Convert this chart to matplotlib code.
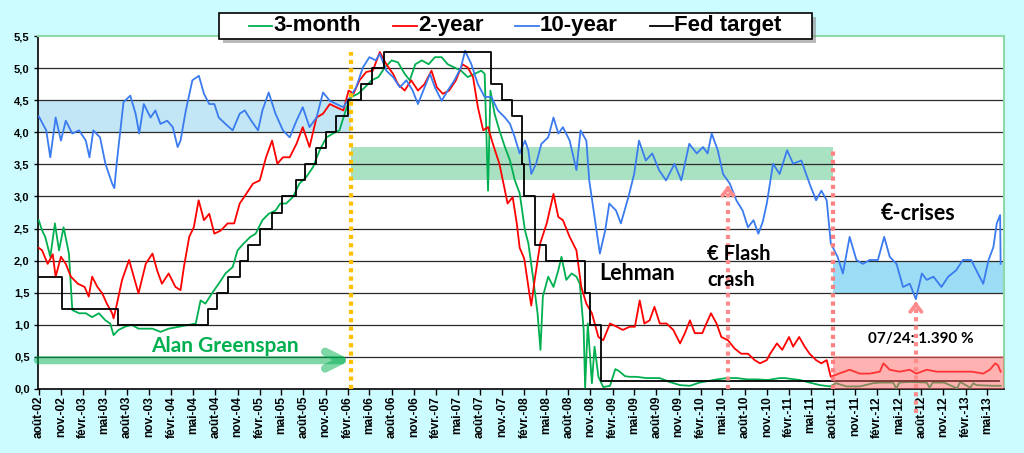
import matplotlib
matplotlib.use("Agg")
import matplotlib.pyplot as plt
import pandas as pd
from matplotlib.lines import Line2D
from matplotlib.patches import Rectangle

# ---------------- data ----------------
t10_dates = ["2002-08-01","2002-09-01","2002-09-18","2002-10-10","2002-11-01","2002-11-21","2002-12-18",
 "2003-01-15","2003-02-12","2003-02-27","2003-03-15","2003-04-12","2003-05-04","2003-06-01","2003-06-10",
 "2003-06-21","2003-07-18","2003-08-15","2003-09-06","2003-09-21","2003-10-10","2003-11-07","2003-11-27",
 "2003-12-18","2004-01-15","2004-02-07","2004-02-27","2004-03-10","2004-04-01","2004-04-28","2004-05-25",
 "2004-06-15","2004-07-07","2004-07-28","2004-08-15","2004-09-12","2004-10-12","2004-11-10","2004-12-01",
 "2004-12-28","2005-01-25","2005-02-12","2005-03-10","2005-04-07","2005-05-08","2005-06-05","2005-07-03",
 "2005-07-29","2005-08-26","2005-09-24","2005-10-21","2005-11-18","2005-12-15","2006-01-13","2006-02-10",
 "2006-03-07","2006-04-04","2006-05-01","2006-05-27","2006-06-13","2006-07-10","2006-08-07","2006-09-04",
 "2006-10-01","2006-10-27","2006-11-18","2006-12-10","2007-01-07","2007-01-27","2007-02-24","2007-03-21",
 "2007-04-18","2007-05-15","2007-06-01","2007-06-27","2007-07-24","2007-08-21","2007-09-18","2007-10-15",
 "2007-11-13","2007-12-04","2007-12-24","2008-01-13","2008-02-04","2008-02-18","2008-03-01","2008-03-21",
 "2008-04-12","2008-05-10","2008-06-01","2008-06-21","2008-07-10","2008-08-07","2008-09-04","2008-09-21",
 "2008-10-15","2008-10-27","2008-11-18","2008-12-10","2009-01-01","2009-01-18","2009-02-15","2009-03-07",
 "2009-04-07","2009-05-01","2009-05-21","2009-06-18","2009-07-15","2009-08-12","2009-09-10","2009-10-15",
 "2009-11-12","2009-12-15","2010-01-15","2010-02-10","2010-03-01","2010-03-18","2010-04-12","2010-05-04",
 "2010-06-01","2010-06-28","2010-07-24","2010-08-15","2010-09-07","2010-09-27","2010-10-15","2010-11-01",
 "2010-11-27","2010-12-24","2011-01-24","2011-02-18","2011-03-24","2011-04-27","2011-05-24","2011-06-15",
 "2011-07-07","2011-07-24","2011-08-21","2011-09-12","2011-10-10","2011-11-07","2011-12-04","2012-01-01",
 "2012-02-04","2012-03-01","2012-03-24","2012-04-21","2012-05-18","2012-06-15","2012-07-10","2012-08-04",
 "2012-08-24","2012-09-21","2012-10-24","2012-11-21","2012-12-24","2013-01-21","2013-02-24","2013-03-24",
 "2013-04-15","2013-05-07","2013-05-27","2013-06-10","2013-06-24","2013-06-26"]
t10_values = [4.25,4.03,3.61,4.23,3.87,4.18,3.98,
 4.03,3.87,3.61,4.03,3.92,3.51,3.20,3.13,
 3.56,4.47,4.57,4.29,3.98,4.44,4.23,4.34,
 4.13,4.18,4.08,3.77,3.87,4.34,4.81,4.88,
 4.60,4.44,4.44,4.23,4.13,4.03,4.29,4.34,
 4.18,4.03,4.34,4.62,4.29,4.03,3.92,4.18,
 4.39,4.08,4.23,4.62,4.49,4.44,4.39,4.55,
 4.70,5.01,5.17,5.12,5.22,4.96,4.86,4.70,
 4.81,4.65,4.44,4.65,4.91,4.70,4.49,4.65,
 4.81,5.01,5.27,5.06,4.75,4.55,4.55,4.34,
 4.23,4.13,3.92,3.67,3.87,3.72,3.35,3.51,
 3.82,3.92,4.23,3.98,4.08,3.87,3.41,4.03,
 3.87,3.25,2.68,2.11,2.47,2.89,2.78,2.58,
 2.99,3.35,3.87,3.56,3.67,3.41,3.25,3.51,
 3.25,3.82,3.67,3.77,3.67,3.98,3.72,3.35,
 3.20,2.94,2.78,2.52,2.63,2.42,2.60,2.89,
 3.51,3.35,3.72,3.51,3.56,3.20,2.94,3.09,
 2.94,2.27,2.06,1.80,2.37,2.01,1.95,2.01,
 2.01,2.37,2.06,1.95,1.59,1.64,1.40,1.80,
 1.70,1.75,1.59,1.75,1.85,2.01,2.01,1.80,
 1.64,2.01,2.21,2.58,2.71,1.95]

t2_dates = ["2002-08-01","2002-08-15","2002-09-07","2002-09-28","2002-10-10","2002-11-01","2002-11-21",
 "2002-12-12","2003-01-10","2003-02-07","2003-02-24","2003-03-10","2003-04-01","2003-04-21","2003-05-10",
 "2003-06-01","2003-06-07","2003-06-21","2003-07-12","2003-08-10","2003-09-07","2003-09-18","2003-10-18",
 "2003-11-15","2003-12-04","2003-12-24","2004-01-21","2004-02-18","2004-03-10","2004-03-24","2004-04-15",
 "2004-05-04","2004-05-24","2004-06-15","2004-07-07","2004-07-28","2004-08-24","2004-09-21","2004-10-18",
 "2004-11-10","2004-12-07","2005-01-04","2005-02-01","2005-02-27","2005-03-24","2005-04-15","2005-05-08",
 "2005-06-05","2005-07-03","2005-07-29","2005-08-26","2005-09-24","2005-10-21","2005-11-18","2005-12-15",
 "2006-01-13","2006-02-04","2006-02-24","2006-03-21","2006-04-18","2006-05-15","2006-06-13","2006-07-10",
 "2006-08-07","2006-08-27","2006-09-24","2006-10-21","2006-11-18","2006-12-15","2007-01-13","2007-02-04",
 "2007-03-01","2007-03-27","2007-04-24","2007-05-21","2007-06-12","2007-07-04","2007-07-24","2007-08-15",
 "2007-09-04","2007-09-24","2007-10-21","2007-11-13","2007-11-24","2007-12-15","2008-01-01","2008-01-13",
 "2008-02-01","2008-02-24","2008-03-01","2008-03-15","2008-04-07","2008-05-04","2008-06-01","2008-06-21",
 "2008-07-10","2008-08-07","2008-09-04","2008-09-24","2008-10-15","2008-11-07","2008-12-04","2008-12-24",
 "2009-01-21","2009-02-18","2009-03-15","2009-04-12","2009-05-04","2009-05-24","2009-06-12","2009-07-04",
 "2009-07-24","2009-08-15","2009-09-12","2009-10-10","2009-11-07","2009-11-27","2009-12-18","2010-01-07",
 "2010-02-07","2010-02-24","2010-03-15","2010-04-07","2010-04-27","2010-05-24","2010-06-21","2010-07-18",
 "2010-08-15","2010-09-12","2010-10-04","2010-11-01","2010-11-15","2010-12-13","2011-01-04","2011-02-01",
 "2011-02-18","2011-03-15","2011-04-07","2011-04-27","2011-05-24","2011-06-15","2011-07-07","2011-07-24",
 "2011-08-27","2011-10-10","2011-11-21","2012-01-01","2012-02-12","2012-02-27","2012-03-24","2012-05-04",
 "2012-06-15","2012-07-12","2012-08-24","2012-10-04","2012-11-15","2013-01-10","2013-02-27","2013-04-15",
 "2013-05-12","2013-06-04","2013-06-15","2013-06-26"]
t2_values = [2.20,2.16,1.95,2.10,1.75,2.06,1.95,
 1.75,1.64,1.59,1.44,1.75,1.59,1.49,1.33,
 1.18,1.10,1.33,1.70,2.01,1.64,1.49,1.95,
 2.11,1.85,1.64,1.80,1.59,1.54,1.90,2.37,
 2.52,2.94,2.63,2.73,2.42,2.47,2.58,2.58,
 2.89,3.04,3.20,3.25,3.61,3.87,3.51,3.61,
 3.61,3.82,4.08,3.77,4.23,4.29,4.44,4.39,
 4.34,4.65,4.60,4.81,4.94,4.96,5.25,5.06,
 4.91,4.75,4.65,4.81,4.65,4.75,4.96,4.70,
 4.60,4.65,4.81,5.06,5.01,4.86,4.39,4.03,
 4.08,3.82,3.51,3.09,2.89,2.99,2.58,2.20,
 2.03,1.44,1.30,1.70,2.27,2.58,3.04,2.68,
 2.63,2.37,2.16,1.59,1.33,1.18,0.81,0.76,
 1.02,0.97,0.92,0.97,0.97,1.38,1.02,1.07,
 1.28,1.02,1.02,0.92,0.71,0.87,1.07,0.87,
 0.87,1.02,1.18,1.02,0.81,0.76,0.63,0.55,
 0.55,0.45,0.40,0.45,0.55,0.71,0.61,0.81,
 0.66,0.81,0.66,0.55,0.45,0.40,0.45,0.19,
 0.24,0.30,0.24,0.24,0.27,0.40,0.30,0.27,
 0.30,0.24,0.30,0.27,0.27,0.27,0.27,0.24,
 0.30,0.40,0.37,0.27]

t3m_dates = ["2002-08-01","2002-08-15","2002-08-28","2002-09-18","2002-10-07","2002-10-24","2002-11-12",
 "2002-12-04","2002-12-18","2003-01-15","2003-02-12","2003-03-10","2003-04-07","2003-05-04","2003-05-24",
 "2003-06-07","2003-06-27","2003-07-24","2003-08-21","2003-09-18","2003-10-18","2003-11-15","2003-12-18",
 "2004-01-21","2004-03-04","2004-04-15","2004-05-12","2004-06-01","2004-06-21","2004-07-18","2004-08-15",
 "2004-09-12","2004-10-12","2004-11-01","2004-11-27","2004-12-24","2005-01-15","2005-02-12","2005-03-10",
 "2005-04-07","2005-04-27","2005-05-21","2005-06-18","2005-07-15","2005-08-12","2005-09-10","2005-10-07",
 "2005-11-04","2005-12-01","2005-12-28","2006-01-27","2006-02-15","2006-03-15","2006-04-12","2006-05-10",
 "2006-06-07","2006-07-04","2006-08-01","2006-08-27","2006-09-24","2006-10-15","2006-11-07","2006-12-04",
 "2007-01-01","2007-01-27","2007-02-24","2007-03-21","2007-04-18","2007-05-15","2007-06-12","2007-07-10",
 "2007-08-07","2007-08-21","2007-09-04","2007-09-14","2007-10-01","2007-10-21","2007-11-13","2007-12-04",
 "2007-12-24","2008-01-13","2008-02-04","2008-02-18","2008-03-08","2008-03-27","2008-04-08","2008-04-18",
 "2008-05-10","2008-06-01","2008-06-21","2008-07-04","2008-07-24","2008-08-15","2008-09-04","2008-09-18",
 "2008-10-04","2008-10-10","2008-10-21","2008-11-07","2008-11-18","2008-12-04","2008-12-24","2009-01-21",
 "2009-02-12","2009-02-27","2009-03-24","2009-04-12","2009-05-10","2009-06-21","2009-08-15","2009-09-24",
 "2009-11-07","2009-12-18","2010-01-27","2010-04-10","2010-05-18","2010-07-01","2010-08-12","2010-09-21",
 "2010-11-04","2010-12-24","2011-01-15","2011-03-18","2011-04-27","2011-06-10","2011-07-21","2011-08-15",
 "2011-09-27","2011-11-21","2012-01-15","2012-02-12","2012-04-07","2012-04-20","2012-05-03","2012-06-15",
 "2012-08-24","2012-09-05","2012-09-18","2012-11-04","2012-12-28","2013-01-10","2013-02-20","2013-03-05",
 "2013-03-18","2013-05-27","2013-06-26"]
t3m_values = [2.63,2.47,2.37,2.06,2.58,2.16,2.52,
 2.11,1.23,1.18,1.18,1.12,1.18,1.07,1.02,
 0.84,0.92,0.97,1.00,0.94,0.94,0.94,0.89,
 0.94,0.97,1.00,1.02,1.38,1.33,1.49,1.64,
 1.80,1.90,2.16,2.27,2.37,2.42,2.63,2.73,
 2.78,2.89,2.89,2.99,3.20,3.30,3.46,3.72,
 3.92,3.98,4.03,4.39,4.55,4.60,4.70,4.81,
 4.86,5.01,5.12,5.09,4.91,4.81,5.06,5.12,
 5.06,5.17,5.17,5.06,5.01,4.96,4.86,4.91,
 4.96,4.91,3.09,4.65,4.29,4.03,3.77,3.56,
 3.25,3.05,2.47,2.27,1.75,1.18,0.61,1.44,
 1.75,1.59,1.85,2.06,1.70,1.80,1.75,1.64,
 0.92,0.02,1.02,0.09,0.66,0.19,0.03,0.05,
 0.31,0.28,0.20,0.19,0.19,0.17,0.17,0.11,
 0.06,0.05,0.10,0.15,0.17,0.17,0.15,0.15,
 0.14,0.17,0.17,0.14,0.10,0.06,0.04,0.09,
 0.04,0.04,0.09,0.10,0.10,0.01,0.10,0.11,
 0.10,0.02,0.10,0.10,0.01,0.11,0.02,0.09,
 0.06,0.05,0.05]

fed_dates = ["2002-08-01","2002-11-06","2003-06-25","2004-06-30","2004-08-10","2004-09-21","2004-11-10",
 "2004-12-14","2005-02-02","2005-03-22","2005-05-03","2005-06-30","2005-08-09","2005-09-20","2005-11-01",
 "2005-12-13","2006-01-31","2006-03-28","2006-05-10","2006-06-29","2007-09-18","2007-10-31","2007-12-11",
 "2008-01-22","2008-01-30","2008-03-18","2008-04-30","2008-10-08","2008-10-29","2008-12-16","2013-06-20"]
fed_values = [1.75,1.25,1.00,1.25,1.50,1.75,2.00,
 2.25,2.50,2.75,3.00,3.25,3.50,3.75,4.00,
 4.25,4.50,4.75,5.00,5.25,4.75,4.50,4.25,
 3.50,3.00,2.25,2.00,1.50,1.00,0.125,0.125]

series_names = ["3-month", "2-year", "10-year", "Fed target"]
series_colors = ["#00b050", "#ff0000", "#3a7bef", "#000000"]

tick_dates = pd.date_range("2002-08-01", "2013-05-01", freq="3MS")
tick_labels = ["août-02","nov.-02","févr.-03","mai-03","août-03","nov.-03","févr.-04","mai-04",
 "août-04","nov.-04","févr.-05","mai-05","août-05","nov.-05","févr.-06","mai-06","août-06","nov.-06",
 "févr.-07","mai-07","août-07","nov.-07","févr.-08","mai-08","août-08","nov.-08","févr.-09","mai-09",
 "août-09","nov.-09","févr.-10","mai-10","août-10","nov.-10","févr.-11","mai-11","août-11","nov.-11",
 "févr.-12","mai-12","août-12","nov.-12","févr.-13","mai-13"]
y_ticks = [0.0,0.5,1.0,1.5,2.0,2.5,3.0,3.5,4.0,4.5,5.0,5.5]
y_labels = ["0,0","0,5","1,0","1,5","2,0","2,5","3,0","3,5","4,0","4,5","5,0","5,5"]

greenspan_end = "2006-02-14"
regime_change = "2011-08-04"
flash_crash = "2010-05-24"
low_date = "2012-07-10"
low_value = 1.39

D = pd.to_datetime

# ---------------- figure ----------------
W, H = 1024, 453
fig = plt.figure(figsize=(W / 100, H / 100), dpi=100, facecolor="#ccfcff")
ax = fig.add_axes([38/W, 64/H, 966/W, 353/H])
ax.set_facecolor("white")
ax.set_xlim(D("2002-07-29"), D("2013-07-10"))
ax.set_ylim(0, 5.5)

# bands
ax.fill_between(D(["2002-07-29", greenspan_end]), 4.0, 4.5, color="#c3e6f6", lw=0, zorder=1)
ax.fill_between(D([greenspan_end, regime_change]), 3.25, 3.77, color="#a9e2c3", lw=0, zorder=1)
ax.fill_between(D([regime_change, "2013-07-10"]), 1.5, 2.0, color="#9ddcf5", lw=0, zorder=1)
ax.fill_between(D([regime_change, "2013-07-10"]), 0.0, 0.52, color="#ff6666", alpha=0.5, lw=0, zorder=6)

# grid
for yv in y_ticks[1:-1]:
    ax.axhline(yv, color="#2a2a2a", lw=0.9, zorder=2)

# series
ax.plot(D(t3m_dates), t3m_values, color=series_colors[0], lw=1.3, zorder=4)
ax.plot(D(t2_dates), t2_values, color=series_colors[1], lw=1.3, zorder=4)
ax.plot(D(t10_dates), t10_values, color=series_colors[2], lw=1.3, zorder=4)
ax.plot(D(fed_dates), fed_values, color=series_colors[3], lw=1.3, drawstyle="steps-post", zorder=5)

# vertical markers
ax.vlines(D(greenspan_end), 0, 5.25, colors="#ffc000", linestyles=(0, (1, 1)), lw=3, zorder=7)
ax.vlines(D(regime_change), 0, 3.75, colors="#ff8080", linestyles=(0, (1, 1)), lw=3, zorder=7)
ax.vlines(D(flash_crash), 0, 3.12, colors="#ff8c8c", linestyles=(0, (1, 1)), lw=3, zorder=7)
ax.plot([D(low_date), D(low_date)], [-0.37, low_value - 0.07], color="#ff8c8c",
        ls=(0, (1, 1)), lw=3, zorder=7, clip_on=False)
for xd, ytip in [(flash_crash, 3.17), (low_date, low_value - 0.03)]:
    ax.annotate("", xy=(D(xd), ytip), xytext=(D(xd), ytip - 0.06),
                arrowprops=dict(arrowstyle="->,head_length=0.5,head_width=0.4", lw=2.8,
                                color="#ff8c8c", shrinkA=0, shrinkB=0), zorder=7)

# Greenspan arrow
ax.annotate("", xy=(D(greenspan_end), 0.45), xytext=(D("2002-07-29"), 0.45),
            arrowprops=dict(arrowstyle="->,head_length=1.2,head_width=0.6", lw=6,
                            color="#00b050", alpha=0.5, shrinkA=0, shrinkB=0), zorder=7)

# annotations
ann = dict(family=["Lato", "DejaVu Sans"], weight="bold", zorder=8, va="center")
ax.text(D("2004-09-10"), 0.67, "Alan Greenspan", color="#00b050", fontsize=15, ha="center", **ann)
ax.text(D("2009-05-13"), 1.80, "Lehman", color="black", fontsize=15.5, ha="center", **ann)
ax.text(D("2010-02-27"), 2.11, "€ Flash", color="black", fontsize=14.5, ha="left", **ann)
ax.text(D("2010-02-27"), 1.70, "crash", color="black", fontsize=14.5, ha="left", **ann)
ax.text(D("2012-07-18"), 2.74, "€-crises", color="black", fontsize=15.5, ha="center", **ann)
ax.text(D("2012-08-01"), 0.78, "07/24: 1.390 %", color="black", fontsize=11, ha="center", **ann)

# axes styling
ax.set_xticks(tick_dates)
ax.set_xticklabels(tick_labels, rotation=90, fontsize=8.6, fontweight="bold", family="Liberation Sans")
ax.set_yticks(y_ticks)
ax.set_yticklabels(y_labels, fontsize=8, fontweight="bold", family="Liberation Sans")
ax.tick_params(axis="x", direction="out", length=4, width=1, pad=1)
ax.tick_params(axis="y", direction="out", length=3, width=1, pad=3)
for s in ["left", "bottom"]:
    ax.spines[s].set_color("black")
    ax.spines[s].set_linewidth(1.2)
for s in ["top", "right"]:
    ax.spines[s].set_color("#8fd9a8")
    ax.spines[s].set_linewidth(1.5)

# legend box (drawn in figure pixels)
lx0, lx1, ly0, ly1 = 219, 812, 13, 39
fig.add_artist(Rectangle(((lx0 + 4) / W, 1 - (ly1 + 4) / H), (lx1 - lx0) / W, (ly1 - ly0) / H,
                         transform=fig.transFigure, facecolor="#8c8c8c", alpha=0.6, lw=0, zorder=20))
fig.add_artist(Rectangle((lx0 / W, 1 - ly1 / H), (lx1 - lx0) / W, (ly1 - ly0) / H,
                         transform=fig.transFigure, facecolor="white", edgecolor="black", lw=1.2, zorder=21))
handle_px = [(249, 272), (393, 417), (515, 539), (650, 673)]
ymid = 1 - 25.5 / H
for (hx0, hx1), name, col in zip(handle_px, series_names, series_colors):
    fig.add_artist(Line2D([hx0 / W, hx1 / W], [ymid, ymid], transform=fig.transFigure,
                          color=col, lw=1.3, zorder=22))
    fig.text((hx1 + 1) / W, ymid, name, ha="left", va="center", fontsize=16, fontweight="bold",
             family="Liberation Sans", zorder=23)

fig.savefig("out.png", dpi=100, facecolor=fig.get_facecolor())
